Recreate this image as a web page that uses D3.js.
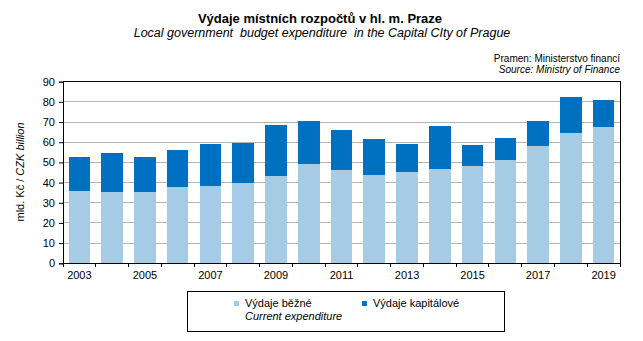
<!DOCTYPE html>
<html><head><meta charset="utf-8">
<script src="https://cdn.jsdelivr.net/npm/d3@7"></script>
<style>
html,body{margin:0;padding:0;background:#fff;}
text{font-family:"Liberation Sans",Arial,sans-serif;fill:#000;white-space:pre;}
</style></head>
<body>
<svg id="c" width="643" height="341"></svg>
<script>
const years = ["2003","2004","2005","2006","2007","2008","2009","2010","2011","2012","2013","2014","2015","2016","2017","2018","2019"];
const currentExp = [36.0,35.3,35.3,37.8,38.3,39.8,43.3,49.2,46.2,43.7,45.2,46.7,48.2,51.2,58.1,64.5,67.5];
const capitalExp = [16.7,19.4,17.4,18.3,20.8,19.8,25.2,21.3,19.8,17.9,13.9,21.3,10.4,10.9,12.4,17.9,13.4];
const yTicks = [0,10,20,30,40,50,60,70,80,90];
const xLabels = ["2003","2005","2007","2009","2011","2013","2015","2017","2019"];
const seriesNames = ["Výdaje běžné","Výdaje kapitálové"];
const seriesNamesEn = ["Current expenditure",""];
const colors = ["#a6cbe5","#0070c0"];

const svg = d3.select("#c");
const m = {l:63, r:620, t:81.7, b:263.3};
const x = d3.scaleBand().domain(years).range([m.l, m.r]).paddingInner(0.34).paddingOuter(0.17);
const y = d3.scaleLinear().domain([0,90]).range([m.b, m.t]);

// gridlines
svg.append("g").selectAll("line").data(yTicks.filter(d=>d>0 && d<90)).join("line")
  .attr("x1",m.l).attr("x2",m.r).attr("y1",d=>y(d)).attr("y2",d=>y(d))
  .attr("stroke","#b4b4b4").attr("stroke-width",1).attr("shape-rendering","crispEdges");

// stacked bars
const data = years.map((yr,i)=>({year:yr, cur:currentExp[i], cap:capitalExp[i]}));
const stack = d3.stack().keys(["cur","cap"])(data);
svg.append("g").selectAll("g").data(stack).join("g").attr("fill",(d,i)=>colors[i])
  .selectAll("rect").data(d=>d).join("rect")
  .attr("x",d=>x(d.data.year)).attr("width",x.bandwidth())
  .attr("y",d=>y(d[1])).attr("height",d=>y(d[0])-y(d[1]))
  .attr("shape-rendering","crispEdges");

// frame
svg.append("rect").attr("x",m.l).attr("y",m.t).attr("width",m.r-m.l).attr("height",m.b-m.t)
  .attr("fill","none").attr("stroke","#000").attr("stroke-width",1).attr("shape-rendering","crispEdges");

// y axis
const yAxis = d3.axisLeft(y).tickValues(yTicks).tickSize(4).tickPadding(4);
const gy = svg.append("g").attr("transform",`translate(${m.l},0)`).call(yAxis);
gy.select(".domain").attr("stroke","#000");
gy.selectAll(".tick line").attr("stroke","#000");
gy.selectAll("text").style("font-size","11px").style("font-family","'Liberation Sans',Arial,sans-serif").attr("fill","#000");

// x axis: ticks at category boundaries
const bounds = d3.range(years.length+1).map(i=>m.l + i*(m.r-m.l)/years.length);
svg.append("g").selectAll("line").data(bounds).join("line")
  .attr("x1",d=>d).attr("x2",d=>d).attr("y1",m.b).attr("y2",m.b+4)
  .attr("stroke","#000").attr("shape-rendering","crispEdges");
svg.append("g").selectAll("text").data(xLabels).join("text")
  .attr("x",d=>x(d)+x.bandwidth()/2).attr("y",278.5).attr("text-anchor","middle")
  .style("font-size","11px").text(d=>d);

// y title
const yt = svg.append("text").attr("transform","translate(24,172) rotate(-90)").attr("text-anchor","middle").style("font-size","11px");
yt.append("tspan").text("mld. Kč / ");
yt.append("tspan").style("font-style","italic").text("CZK billion");

// titles
svg.append("text").attr("x",320).attr("y",23).attr("text-anchor","middle").style("font-size","13px").style("font-weight","bold").text("Výdaje místních rozpočtů v hl. m. Praze");
svg.append("text").attr("x",322).attr("y",36.5).attr("text-anchor","middle").style("font-size","12.5px").style("font-style","italic").text("Local government  budget expenditure  in the Capital CIty of Prague");
svg.append("text").attr("x",620).attr("y",62).attr("text-anchor","end").style("font-size","10px").text("Pramen: Ministerstvo financí");
svg.append("text").attr("x",620).attr("y",73).attr("text-anchor","end").style("font-size","10px").style("font-style","italic").text("Source: Ministry of Finance");

// legend
svg.append("rect").attr("x",187).attr("y",291).attr("width",317).attr("height",40)
  .attr("fill","none").attr("stroke","#000").attr("shape-rendering","crispEdges");
const lx = [234, 362];
seriesNames.forEach((n,i)=>{
  svg.append("rect").attr("x",lx[i]).attr("y",301).attr("width",5).attr("height",5).attr("fill",colors[i]);
  svg.append("text").attr("x",lx[i]+11).attr("y",307).style("font-size","11px").text(n);
  if(seriesNamesEn[i]) svg.append("text").attr("x",lx[i]+11).attr("y",320).style("font-size","11px").style("font-style","italic").text(seriesNamesEn[i]);
});
</script>
</body></html>
